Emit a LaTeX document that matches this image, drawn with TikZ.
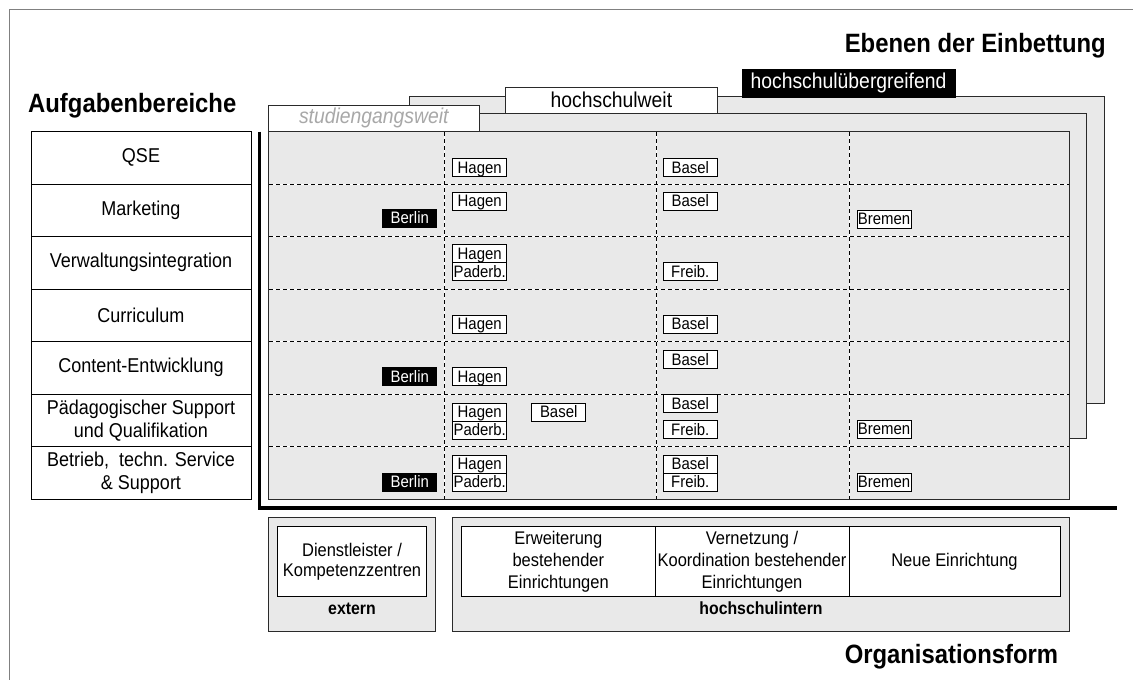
\documentclass[tikz,border=0pt]{standalone}
\usepackage{fontspec}
\setmainfont{Liberation Sans}[FakeStretch=0.9]
\definecolor{panelgray}{HTML}{E9E9E9}
\definecolor{linegray}{HTML}{2A2A2A}
\definecolor{tabtextgray}{HTML}{A8A8A8}
\definecolor{framegray}{HTML}{808080}
\tikzset{
  panel/.style={draw=linegray, fill=panelgray, line width=0.9pt},
  tabbox/.style={draw=linegray, fill=white, line width=0.9pt, inner sep=0pt, font=\fontsize{21.5}{22}\selectfont},
  rowbox/.style={draw=black, fill=white, line width=0.9pt, inner sep=0pt, align=center,
    minimum width=220pt, minimum height=52.5pt, font=\fontsize{20}{23}\selectfont},
  city/.style={draw=black, fill=white, line width=0.8pt, minimum width=54pt, minimum height=18pt,
    inner sep=0pt, text height=12.3pt, text depth=1.7pt, font=\fontsize{16.6}{16}\selectfont},
  cityblack/.style={city, fill=black, text=white},
  orgcell/.style={draw=black, fill=white, line width=0.9pt, inner sep=0pt, align=center,
    minimum height=70.7pt, font=\fontsize{18.3}{22}\selectfont},
  titletext/.style={inner sep=0pt, font=\bfseries\fontsize{26.5}{26}\selectfont},
  grouptext/.style={inner sep=0pt, font=\bfseries\fontsize{17.6}{17}\selectfont},
  gridunder/.style={white, line width=1pt},
  gridline/.style={black, line width=0.9pt, dash pattern=on 4pt off 3pt},
}
\begin{document}
\begin{tikzpicture}[x=1pt,y=-1pt]
\useasboundingbox (0,0) rectangle (1133,680);
% outer frame (only top and left visible)
\draw[framegray, line width=0.9pt] (9,680) -- (9,9) -- (1133,9);

% titles
\node[titletext, anchor=base west] (tAufg) at (28,112) {Aufgabenbereiche};
\node[titletext, anchor=base east] (tEben) at (1106,52) {Ebenen der Einbettung};
\node[titletext, anchor=base east] (tOrg) at (1058.3,663.3) {Organisationsform};

% back panel: hochschulübergreifend
\draw[panel] (409,96.7) rectangle (1104,403);
\node[draw=black, fill=black, text=white, inner sep=0pt, minimum width=212.7pt, minimum height=27.4pt,
  font=\fontsize{21.5}{22}\selectfont] (tabHU) at (848.5,83) {hochschulübergreifend};

% middle panel: hochschulweit
\draw[panel] (350,113.3) rectangle (1086,438);
\node[tabbox, minimum width=211.3pt, minimum height=26pt] (tabHW) at (611.4,100.3) {hochschulweit};

% front panel: studiengangsweit
\draw[panel] (268.3,131.5) rectangle (1069,499.3);
\node[tabbox, minimum width=211pt, minimum height=26.5pt, text=tabtextgray,
  font=\itshape\fontsize{21.5}{22}\selectfont] (tabSW) at (373.8,118.25) {studiengangsweit};

% grid lines
\foreach \yy in {184,236.5,289,341.5,394,446.8} {
  \draw[gridunder] (268.8,\yy) -- (1068.5,\yy);
  \draw[gridline] (268.8,\yy) -- (1068.5,\yy);
}
\foreach \xx in {444,656,849} {
  \draw[gridunder] (\xx,132) -- (\xx,498.8);
  \draw[gridline] (\xx,132) -- (\xx,498.8);
}

% thick axes
\draw[line width=3.5pt, line join=miter] (259.3,131.5) -- (259.3,508) -- (1117,508);

% left column: Aufgabenbereiche
\node[rowbox] (r1) at (141,157.75) {QSE};
\node[rowbox] (r2) at (141,210.25) {Marketing};
\node[rowbox] (r3) at (141,262.75) {Verwaltungsintegration};
\node[rowbox] (r4) at (141,315.25) {Curriculum};
\node[rowbox] (r5) at (141,367.75) {Content-Entwicklung};
\node[rowbox] (r6) at (141,420.25) {Pädagogischer Support\\und Qualifikation};
\node[rowbox] (r7) at (141,472.75) {Betrieb,\ \ techn. Service\\\& Support};

% row 1
\node[city] (h1) at (479.7,167.7) {Hagen};
\node[city] (b1) at (690.3,167.7) {Basel};
% row 2
\node[cityblack] (be2) at (409.8,218.5) {Berlin};
\node[city] (h2) at (479.7,201.5) {Hagen};
\node[city] (b2) at (690.3,201.5) {Basel};
\node[city] (br2) at (884,219) {Bremen};
% row 3
\node[city] (h3) at (479.7,253.8) {Hagen};
\node[city] (p3) at (479.7,271.7) {Paderb.};
\node[city] (f3) at (690.3,271.7) {Freib.};
% row 4
\node[city] (h4) at (479.7,324.5) {Hagen};
\node[city] (b4) at (690.3,324.5) {Basel};
% row 5
\node[cityblack] (be5) at (409.8,376.8) {Berlin};
\node[city] (h5) at (479.7,376.8) {Hagen};
\node[city] (b5) at (690.3,359.8) {Basel};
% row 6
\node[city] (h6) at (479.7,412.2) {Hagen};
\node[city] (p6) at (479.7,430.1) {Paderb.};
\node[city] (bm6) at (558.7,412.2) {Basel};
\node[city] (b6) at (690.3,403.8) {Basel};
\node[city] (f6) at (690.3,429.8) {Freib.};
\node[city] (br6) at (884,429.6) {Bremen};
% row 7
\node[cityblack] (be7) at (409.8,482.2) {Berlin};
\node[city] (h7) at (479.7,464.5) {Hagen};
\node[city] (p7) at (479.7,482.4) {Paderb.};
\node[city] (b7) at (690.3,464.5) {Basel};
\node[city] (f7) at (690.3,482.4) {Freib.};
\node[city] (br7) at (884,482) {Bremen};

% bottom: Organisationsform
\draw[panel] (268.3,517.3) rectangle (435.7,631);
\node[orgcell, minimum width=149.4pt, font=\fontsize{18.3}{20}\selectfont] (dl) at (352,561.35) {Dienstleister /\\Kompetenzzentren};
\node[grouptext] (ext) at (352,609.3) {extern};

\draw[panel] (452.7,517.3) rectangle (1069,631);
\node[orgcell, minimum width=193.3pt] (erw) at (558.35,561.35) {Erweiterung\\bestehender\\Einrichtungen};
\node[orgcell, minimum width=194pt] (ver) at (752,561.35) {Vernetzung /\\Koordination bestehender\\Einrichtungen};
\node[orgcell, minimum width=211pt] (neu) at (954.5,561.35) {Neue Einrichtung};
\node[grouptext] (hsi) at (761,608.3) {hochschulintern};
\end{tikzpicture}
\end{document}
